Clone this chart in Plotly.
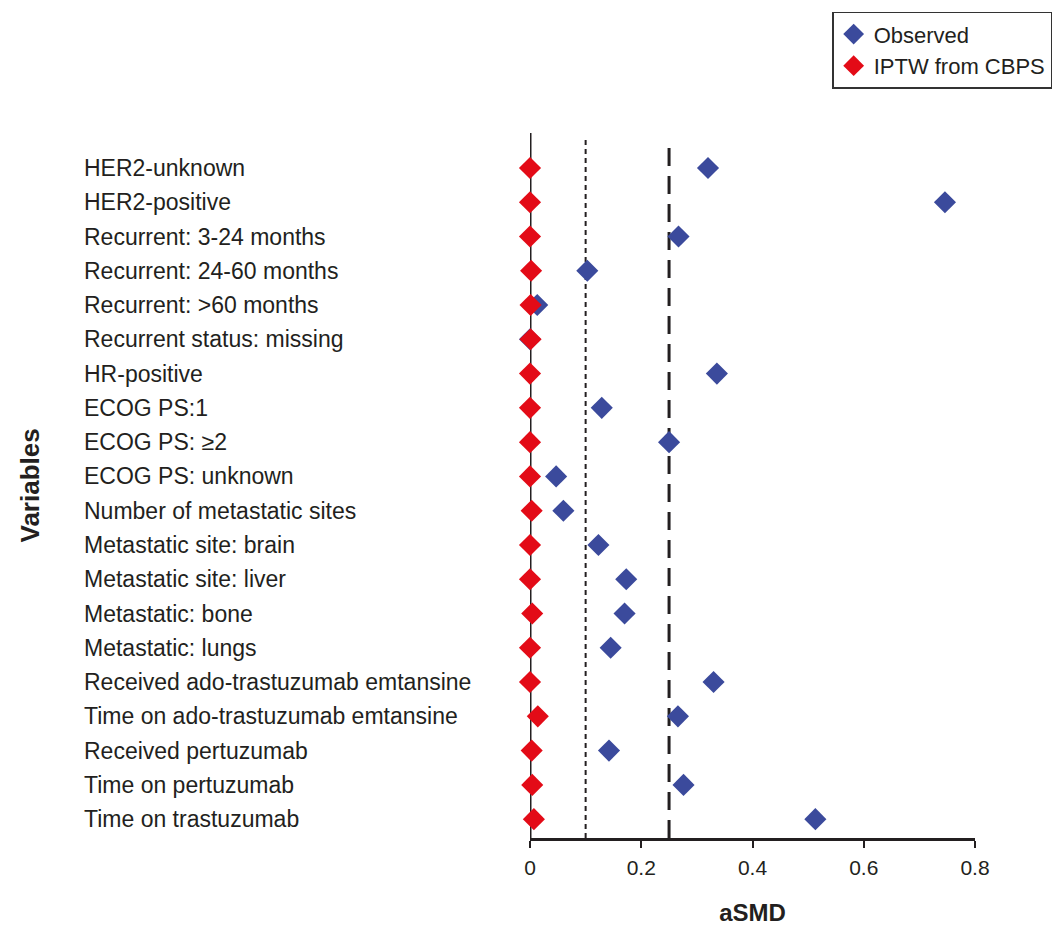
import plotly.graph_objects as go

variables = [
    "HER2-unknown", "HER2-positive", "Recurrent: 3-24 months", "Recurrent: 24-60 months",
    "Recurrent: >60 months", "Recurrent status: missing", "HR-positive", "ECOG PS:1",
    "ECOG PS: ≥2", "ECOG PS: unknown", "Number of metastatic sites", "Metastatic site: brain",
    "Metastatic site: liver", "Metastatic: bone", "Metastatic: lungs",
    "Received ado-trastuzumab emtansine", "Time on ado-trastuzumab emtansine",
    "Received pertuzumab", "Time on pertuzumab", "Time on trastuzumab",
]
observed = [0.320, 0.746, 0.267, 0.103, 0.013, 0.000, 0.336, 0.129, 0.250, 0.047,
            0.060, 0.123, 0.173, 0.170, 0.145, 0.330, 0.266, 0.142, 0.276, 0.513]
iptw = [0.000, 0.000, 0.000, 0.002, 0.001, 0.001, 0.000, 0.000, 0.000, 0.000,
        0.003, 0.000, 0.000, 0.004, 0.000, 0.000, 0.014, 0.003, 0.004, 0.007]
x_ticks = [0, 0.2, 0.4, 0.6, 0.8]
x_tick_labels = ["0", "0.2", "0.4", "0.6", "0.8"]
thresholds = [0.1, 0.25]

pos = list(range(len(variables)))
FONT = "Liberation Sans, Arial, Helvetica, sans-serif"
TXT = "#231f20"

fig = go.Figure()
fig.add_trace(go.Scatter(
    x=observed, y=pos, mode="markers", name="Observed",
    marker=dict(symbol="diamond", size=17, color="#3b4a9c"), cliponaxis=False))
fig.add_trace(go.Scatter(
    x=iptw, y=pos, mode="markers", name="IPTW from CBPS",
    marker=dict(symbol="diamond", size=17, color="#e30b17"), cliponaxis=False))

# zero reference line (vertical axis)
fig.add_shape(type="line", xref="x", yref="paper", x0=0, x1=0, y0=0, y1=1,
              layer="below", line=dict(color=TXT, width=3))
fig.add_shape(type="line", xref="x", yref="paper", x0=thresholds[0], x1=thresholds[0],
              y0=0, y1=0.993, layer="below",
              line=dict(color=TXT, width=2, dash="5px,4px"))
fig.add_shape(type="line", xref="x", yref="paper", x0=thresholds[1], x1=thresholds[1],
              y0=0, y1=0.985, layer="below",
              line=dict(color=TXT, width=3, dash="18px,10px"))

for i, v in enumerate(variables):
    fig.add_annotation(x=-1.007, xref="paper", y=i, yref="y", text=v, showarrow=False,
                       xanchor="left", yanchor="middle",
                       font=dict(family=FONT, size=23, color=TXT))

fig.update_layout(
    width=1059, height=926,
    margin=dict(l=530, r=84, t=133, b=88, autoexpand=False),
    plot_bgcolor="white", paper_bgcolor="white",
    font=dict(family=FONT, size=21, color=TXT),
    showlegend=True,
    legend=dict(x=0.679, y=1.172, xanchor="left", yanchor="top",
                bordercolor="#333333", borderwidth=1.5, bgcolor="white",
                font=dict(family=FONT, size=22, color=TXT),
                itemsizing="trace", tracegroupgap=0),
    xaxis=dict(range=[0, 0.8], tickvals=x_ticks, ticktext=x_tick_labels,
               showgrid=False, zeroline=False, showline=True, linecolor=TXT,
               linewidth=2.5, ticks="outside", ticklen=7, tickwidth=2, tickcolor=TXT,
               ticklabelstandoff=2,
               tickfont=dict(family=FONT, size=21, color=TXT),
               title=dict(text="<b>aSMD</b>", standoff=30,
                          font=dict(family=FONT, size=24, color=TXT)),
               automargin=False, layer="below traces"),
    yaxis=dict(range=[19.55, -1.02], showgrid=False, zeroline=False, showline=False,
               showticklabels=False, ticks="", automargin=False),
)
fig.add_annotation(x=(29 - 530) / 445, xref="paper", xanchor="center", y=0.5, yref="paper",
                   text="<b>Variables</b>", showarrow=False, textangle=-90,
                   font=dict(family=FONT, size=26, color=TXT))

fig.write_html("out.html")
